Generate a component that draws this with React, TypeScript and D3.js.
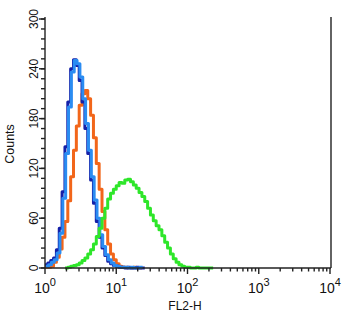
import React, { useEffect, useRef } from "react";
import * as d3 from "d3";

// histogram bins, in decades (log10 of FL2-H), bin width BIN
const BIN = 0.04;

const darkBlueStart = 0;
const darkBlue = [4, 6, 9, 12, 22, 48, 92, 146, 200, 240, 251, 244, 226, 200, 168, 138, 106, 78, 56, 37, 24, 15, 8, 5, 3, 2, 1, 1, 0, 1, 0, 0, 1, 0, 0];

const lightBlueStart = 0.01;
const lightBlue = [2, 4, 7, 10, 18, 42, 84, 138, 194, 236, 250, 246, 230, 204, 174, 142, 110, 82, 60, 40, 26, 16, 10, 6, 3, 2, 1, 1, 1, 0, 1, 0, 0, 1];

const orangeStart = 0;
const orange = [1, 1, 2, 7, 13, 23, 37, 56, 81, 110, 142, 171, 196, 210, 214, 204, 184, 157, 126, 95, 68, 46, 29, 17, 10, 5, 2, 1, 1, 0, 0, 1, 0, 0];

const greenStart = 0.28;
const green = [0, 1, 2, 3, 4, 6, 9, 12, 17, 22, 29, 38, 48, 60, 72, 83, 90, 95, 99, 103, 102, 106, 107, 104, 100, 96, 91, 86, 80, 72, 64, 57, 51, 46, 39, 31, 24, 17, 11, 7, 4, 2, 1, 1, 0, 0, 1, 0, 0, 0, 0, 0];

const yMajor = [0, 60, 120, 180, 240, 300];
const yMinorStep = 12;
const decades = [0, 1, 2, 3, 4];

const series = [
  { start: orangeStart, values: orange, color: "#f2661a" },
  { start: darkBlueStart, values: darkBlue, color: "#1420a8" },
  { start: lightBlueStart, values: lightBlue, color: "#2a8cf2" },
  { start: greenStart, values: green, color: "#2ee62a" },
];

export default function App() {
  const ref = useRef<SVGSVGElement>(null);

  useEffect(() => {
    const svg = d3.select(ref.current);
    svg.selectAll("*").remove();

    const x = d3.scaleLog().domain([1, 10000]).range([45, 330]);
    const y = d3.scaleLinear().domain([0, 300]).range([268, 19]);
    const font = "Liberation Sans, Arial, sans-serif";

    // histograms
    const line = d3
      .line<{ l: number; v: number }>()
      .x((d) => x(Math.pow(10, d.l)))
      .y((d) => y(d.v))
      .curve(d3.curveStepAfter);

    series.forEach((s) => {
      const pts = s.values.map((v, i) => ({ l: s.start + i * BIN, v }));
      pts.push({ l: s.start + s.values.length * BIN, v: s.values[s.values.length - 1] });
      svg
        .append("path")
        .datum(pts)
        .attr("d", line)
        .attr("fill", "none")
        .attr("stroke", s.color)
        .attr("stroke-width", 3)
        .attr("stroke-linejoin", "round");
    });

    const axis = svg.append("g").attr("stroke", "#222").attr("stroke-width", 1.4);

    // y axis
    axis.append("line").attr("x1", 45).attr("x2", 45).attr("y1", 17).attr("y2", 268);
    d3.range(0, 301, yMinorStep).forEach((v) => {
      axis.append("line").attr("x1", 41).attr("x2", 45).attr("y1", y(v)).attr("y2", y(v));
    });
    yMajor.forEach((v) => {
      axis.append("line").attr("x1", 39).attr("x2", 45).attr("y1", y(v)).attr("y2", y(v));
      svg
        .append("text")
        .attr("transform", `translate(37.5,${y(v)}) rotate(-90)`)
        .attr("text-anchor", "middle")
        .attr("font-family", font)
        .attr("font-size", 12)
        .attr("fill", "#111")
        .text(v);
    });

    // x axis
    axis.append("line").attr("x1", 45).attr("x2", 331).attr("y1", 268).attr("y2", 268);
    decades.slice(0, 4).forEach((d) => {
      for (let m = 2; m <= 9; m++) {
        const px = x(m * Math.pow(10, d));
        axis.append("line").attr("x1", px).attr("x2", px).attr("y1", 268).attr("y2", 271.5);
      }
    });
    decades.forEach((d) => {
      const px = x(Math.pow(10, d));
      axis.append("line").attr("x1", px).attr("x2", px).attr("y1", 268).attr("y2", 274);
      const t = svg
        .append("text")
        .attr("x", px)
        .attr("y", 293)
        .attr("text-anchor", "middle")
        .attr("font-family", font)
        .attr("font-size", 14)
        .attr("fill", "#111");
      t.append("tspan").text("10");
      t.append("tspan").attr("dy", -7).attr("font-size", 11).text(d);
    });

    // right border
    axis.append("line").attr("x1", 331).attr("x2", 331).attr("y1", 17).attr("y2", 268);

    svg
      .append("text")
      .attr("x", 185)
      .attr("y", 310)
      .attr("text-anchor", "middle")
      .attr("font-family", font)
      .attr("font-size", 12)
      .attr("fill", "#111")
      .text("FL2-H");

    svg
      .append("text")
      .attr("transform", `translate(14,144) rotate(-90)`)
      .attr("text-anchor", "middle")
      .attr("font-family", font)
      .attr("font-size", 12.5)
      .attr("fill", "#111")
      .text("Counts");
  }, []);

  return (
    <svg
      ref={ref}
      width={350}
      height={322}
      style={{ position: "absolute", left: 0, top: 0, background: "#fff" }}
    />
  );
}
